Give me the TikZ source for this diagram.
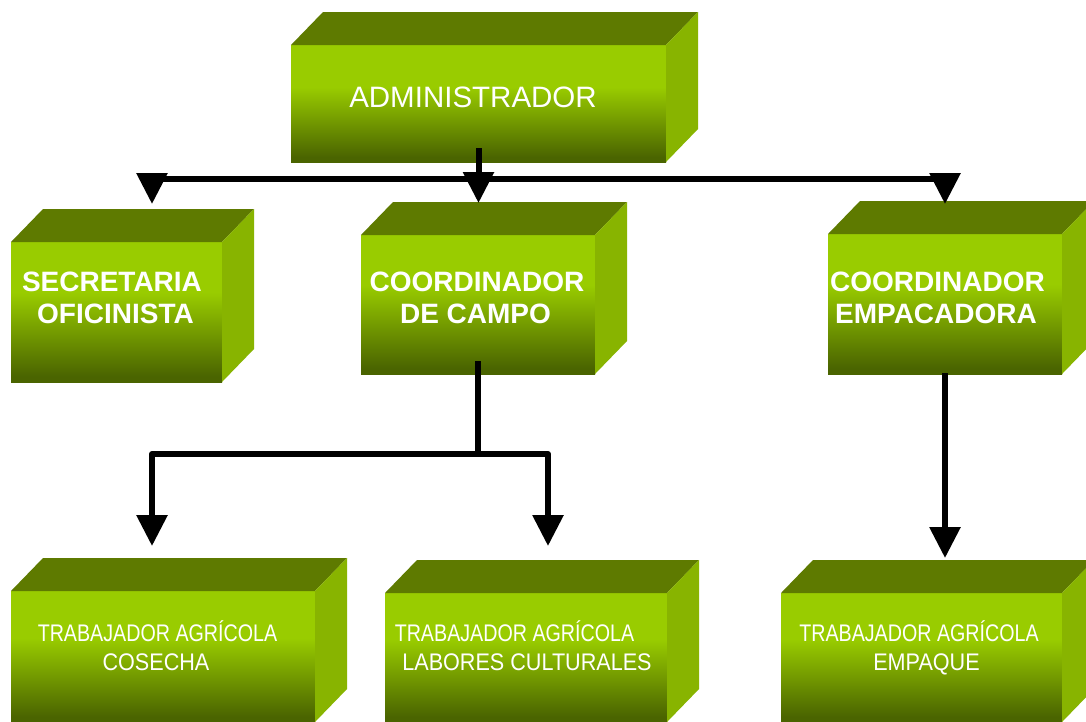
\documentclass[tikz,border=0pt]{standalone}
\usepackage{fontspec}
\setmainfont{Liberation Sans}
\newfontfamily\narrowf[FakeStretch=0.82]{Liberation Sans}
\newfontfamily\narrowg[FakeStretch=0.90]{Liberation Sans}
\usetikzlibrary{arrows.meta}
\definecolor{ftop}{HTML}{99CC00}
\definecolor{fbot}{HTML}{4A6400}
\definecolor{topface}{HTML}{5E7A00}
\definecolor{sideface}{HTML}{88B400}
\pgfdeclareverticalshading{frontsh}{100bp}{color(0bp)=(fbot); color(27bp)=(fbot); color(57bp)=(ftop); color(100bp)=(ftop)}
\tikzset{
  front/.style 2 args={shade, shading=frontsh, draw=none, inner sep=0pt, outer sep=0pt,
    minimum width=#1pt, minimum height=#2pt},
  big/.style={text=white, inner sep=0pt, anchor=base, font=\fontsize{29.5}{31}\selectfont},
  bold/.style={text=white, inner sep=0pt, anchor=base, font=\bfseries\fontsize{28}{31}\selectfont},
  narrow/.style={text=white, inner sep=0pt, anchor=base, font=\narrowf\fontsize{24}{29}\selectfont},
  narrowb/.style={text=white, inner sep=0pt, anchor=base, font=\narrowg\fontsize{24}{29}\selectfont},
  conn/.style={line width=6pt, black, line join=round},
  arr/.style={conn, -{Triangle[width=30pt,length=31pt]}},
}
\newcommand\cubefaces[1]{%
  \fill[topface] (#1.north west) -- ([shift={(32,-33)}]#1.north west) -- ([shift={(32,-33)}]#1.north east) -- (#1.north east) -- cycle;
  \fill[sideface] (#1.north east) -- ([shift={(32,-33)}]#1.north east) -- ([shift={(32,-33)}]#1.south east) -- (#1.south east) -- cycle;
}
\begin{document}
\begin{tikzpicture}[x=1pt,y=-1pt]
\useasboundingbox (0,0) rectangle (1086,721);
\clip (0,0) rectangle (1086,721);
\fill[white] (0,0) rectangle (1086,721);
% boxes (front faces)
\node[front={375}{117}] (admin) at (478.5,103.5) {};
\node[front={211}{140}] (sec) at (116.5,312) {};
\node[front={234}{139}] (campo) at (478,304.5) {};
\node[front={234}{140}] (empac) at (945,304) {};
\node[front={304}{131}] (cos) at (163,656.5) {};
\node[front={282}{129}] (lab) at (526,657.5) {};
\node[front={281}{129}] (emq) at (921.5,657.5) {};
\foreach \b in {admin,sec,campo,empac,cos,lab,emq}{\cubefaces{\b}}
% texts
\node[big] (adminT) at (473,107.3) {ADMINISTRADOR};
\node[bold] (secT1) at (112,291.7) {SECRETARIA};
\node[bold] (secT2) at (115.5,323.3) {OFICINISTA};
\node[bold] (campoT1) at (477,291.7) {COORDINADOR};
\node[bold] (campoT2) at (475.5,323.3) {DE CAMPO};
\node[bold] (empacT1) at (937.5,291.7) {COORDINADOR};
\node[bold] (empacT2) at (936,323.3) {EMPACADORA};
\node[narrow] (cosT1) at (157.5,641) {TRABAJADOR AGRÍCOLA};
\node[narrowb] (cosT2) at (156,670) {COSECHA};
\node[narrow] (labT1) at (514.5,641) {TRABAJADOR AGRÍCOLA};
\node[narrowb] (labT2) at (527,670) {LABORES CULTURALES};
\node[narrow] (emqT1) at (919,641) {TRABAJADOR AGRÍCOLA};
\node[narrowb] (emqT2) at (926.5,670) {EMPAQUE};
% connectors
\coordinate (busL) at (152,179);
\coordinate (busR) at (945,179);
\coordinate (tSec) at (152,204);
\coordinate (tCampo) at (478.5,203);
\coordinate (tEmpac) at (945,204);
\draw[conn] (busL) -- (busR);
\draw[arr] ([yshift=14pt]admin.south) -- (tCampo);
\draw[arr] (busL) -- (tSec);
\draw[arr] (busR) -- (tEmpac);
\coordinate (j) at (478,454);
\coordinate (tCos) at (152,546);
\coordinate (tLab) at (548,546);
\coordinate (tEmq) at (945,558);
\draw[conn] ([yshift=13pt]campo.south) -- (j);
\draw[arr] (j) -| (tCos);
\draw[arr] (j) -| (tLab);
\draw[arr] ([yshift=1pt]empac.south) -- (tEmq);
\end{tikzpicture}
\end{document}
